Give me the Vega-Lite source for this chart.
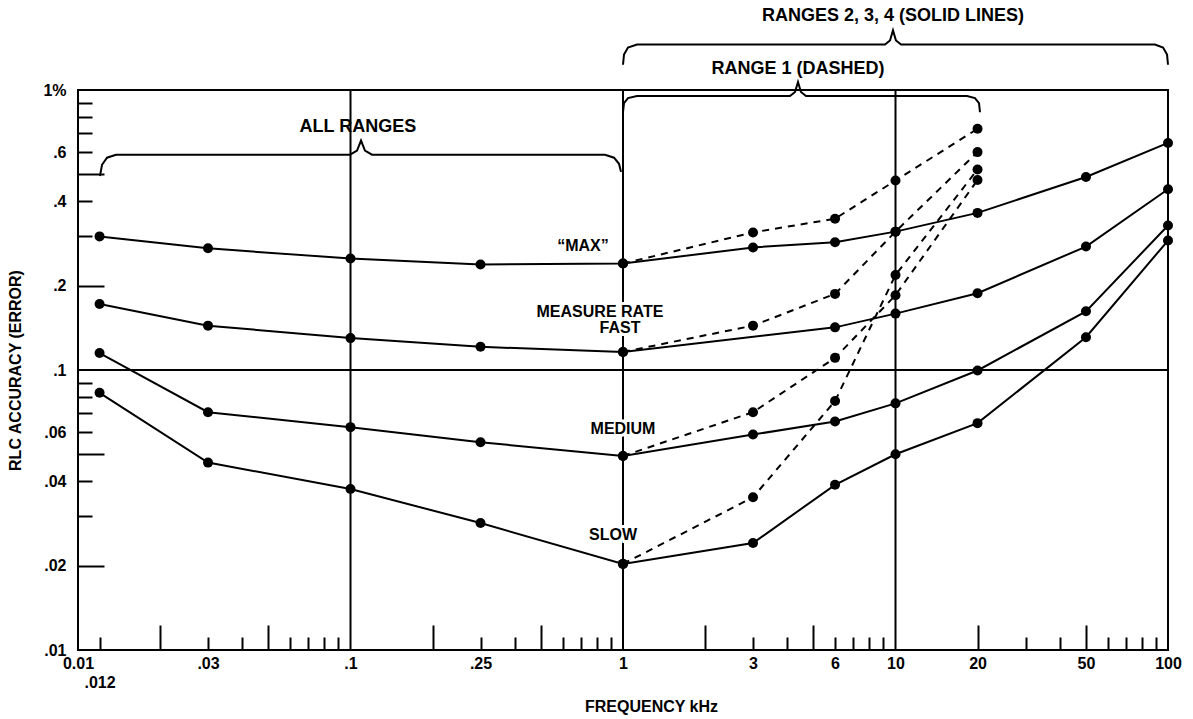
{
  "$schema": "https://vega.github.io/schema/vega-lite/v6.json",
  "width": 1090,
  "height": 560,
  "autosize": {"type": "none"},
  "padding": {"left": 78, "top": 90, "right": 25, "bottom": 69},
  "background": "white",
  "config": {
    "view": {"stroke": "black", "strokeWidth": 2},
    "font": "Liberation Sans",
    "axis": {"grid": false, "tickColor": "black", "tickWidth": 2, "labelColor": "black", "titleColor": "black"}
  },
  "datasets": {
    "series": [
      {"s": "MAX", "r": "solid", "f": 0.012, "v": 0.30},
      {"s": "MAX", "r": "solid", "f": 0.03, "v": 0.272},
      {"s": "MAX", "r": "solid", "f": 0.1, "v": 0.25},
      {"s": "MAX", "r": "solid", "f": 0.3, "v": 0.238},
      {"s": "MAX", "r": "solid", "f": 1, "v": 0.24},
      {"s": "MAX", "r": "solid", "f": 3, "v": 0.274},
      {"s": "MAX", "r": "solid", "f": 6, "v": 0.286},
      {"s": "MAX", "r": "solid", "f": 10, "v": 0.312},
      {"s": "MAX", "r": "solid", "f": 20, "v": 0.364},
      {"s": "MAX", "r": "solid", "f": 50, "v": 0.489},
      {"s": "MAX", "r": "solid", "f": 100, "v": 0.647},
      {"s": "FAST", "r": "solid", "f": 0.012, "v": 0.172},
      {"s": "FAST", "r": "solid", "f": 0.03, "v": 0.144},
      {"s": "FAST", "r": "solid", "f": 0.1, "v": 0.13},
      {"s": "FAST", "r": "solid", "f": 0.3, "v": 0.121},
      {"s": "FAST", "r": "solid", "f": 1, "v": 0.116},
      {"s": "FAST", "r": "solid", "f": 6, "v": 0.142},
      {"s": "FAST", "r": "solid", "f": 10, "v": 0.159},
      {"s": "FAST", "r": "solid", "f": 20, "v": 0.188},
      {"s": "FAST", "r": "solid", "f": 50, "v": 0.276},
      {"s": "FAST", "r": "solid", "f": 100, "v": 0.442},
      {"s": "MEDIUM", "r": "solid", "f": 0.012, "v": 0.115},
      {"s": "MEDIUM", "r": "solid", "f": 0.03, "v": 0.0707},
      {"s": "MEDIUM", "r": "solid", "f": 0.1, "v": 0.0625},
      {"s": "MEDIUM", "r": "solid", "f": 0.3, "v": 0.0552},
      {"s": "MEDIUM", "r": "solid", "f": 1, "v": 0.0493},
      {"s": "MEDIUM", "r": "solid", "f": 3, "v": 0.0588},
      {"s": "MEDIUM", "r": "solid", "f": 6, "v": 0.0655},
      {"s": "MEDIUM", "r": "solid", "f": 10, "v": 0.076},
      {"s": "MEDIUM", "r": "solid", "f": 20, "v": 0.0996},
      {"s": "MEDIUM", "r": "solid", "f": 50, "v": 0.162},
      {"s": "MEDIUM", "r": "solid", "f": 100, "v": 0.328},
      {"s": "SLOW", "r": "solid", "f": 0.012, "v": 0.0829},
      {"s": "SLOW", "r": "solid", "f": 0.03, "v": 0.0467},
      {"s": "SLOW", "r": "solid", "f": 0.1, "v": 0.0376},
      {"s": "SLOW", "r": "solid", "f": 0.3, "v": 0.0284},
      {"s": "SLOW", "r": "solid", "f": 1, "v": 0.0203},
      {"s": "SLOW", "r": "solid", "f": 3, "v": 0.0241},
      {"s": "SLOW", "r": "solid", "f": 6, "v": 0.0389},
      {"s": "SLOW", "r": "solid", "f": 10, "v": 0.05},
      {"s": "SLOW", "r": "solid", "f": 20, "v": 0.0646},
      {"s": "SLOW", "r": "solid", "f": 50, "v": 0.131},
      {"s": "SLOW", "r": "solid", "f": 100, "v": 0.29},
      {"s": "MAX", "r": "dashed", "f": 1, "v": 0.24},
      {"s": "MAX", "r": "dashed", "f": 3, "v": 0.31},
      {"s": "MAX", "r": "dashed", "f": 6, "v": 0.347},
      {"s": "MAX", "r": "dashed", "f": 10, "v": 0.475},
      {"s": "MAX", "r": "dashed", "f": 20, "v": 0.727},
      {"s": "FAST", "r": "dashed", "f": 1, "v": 0.116},
      {"s": "FAST", "r": "dashed", "f": 3, "v": 0.144},
      {"s": "FAST", "r": "dashed", "f": 6, "v": 0.187},
      {"s": "FAST", "r": "dashed", "f": 10, "v": 0.312},
      {"s": "FAST", "r": "dashed", "f": 20, "v": 0.60},
      {"s": "MEDIUM", "r": "dashed", "f": 1, "v": 0.0493},
      {"s": "MEDIUM", "r": "dashed", "f": 3, "v": 0.0707},
      {"s": "MEDIUM", "r": "dashed", "f": 6, "v": 0.1105},
      {"s": "MEDIUM", "r": "dashed", "f": 10, "v": 0.185},
      {"s": "MEDIUM", "r": "dashed", "f": 20, "v": 0.477},
      {"s": "SLOW", "r": "dashed", "f": 1, "v": 0.0203},
      {"s": "SLOW", "r": "dashed", "f": 3, "v": 0.0351},
      {"s": "SLOW", "r": "dashed", "f": 6, "v": 0.0775},
      {"s": "SLOW", "r": "dashed", "f": 10, "v": 0.2185},
      {"s": "SLOW", "r": "dashed", "f": 20, "v": 0.52}
    ],
    "braces": [
      {"b": "all", "o": 1, "f": 0.01204, "v": 0.4932},
      {"b": "all", "o": 2, "f": 0.01225, "v": 0.5406},
      {"b": "all", "o": 3, "f": 0.01278, "v": 0.5731},
      {"b": "all", "o": 4, "f": 0.01378, "v": 0.5875},
      {"b": "all", "o": 5, "f": 0.0996, "v": 0.5875},
      {"b": "all", "o": 6, "f": 0.1057, "v": 0.6072},
      {"b": "all", "o": 7, "f": 0.1093, "v": 0.6599},
      {"b": "all", "o": 8, "f": 0.1130, "v": 0.6072},
      {"b": "all", "o": 9, "f": 0.1199, "v": 0.5875},
      {"b": "all", "o": 10, "f": 0.859, "v": 0.5875},
      {"b": "all", "o": 11, "f": 0.927, "v": 0.5731},
      {"b": "all", "o": 12, "f": 0.9667, "v": 0.5452},
      {"b": "all", "o": 13, "f": 0.9833, "v": 0.51},
      {"b": "r1", "o": 1, "f": 1.0, "v": 0.8327},
      {"b": "r1", "o": 2, "f": 1.0085, "v": 0.8977},
      {"b": "r1", "o": 3, "f": 1.043, "v": 0.9357},
      {"b": "r1", "o": 4, "f": 1.1256, "v": 0.9513},
      {"b": "r1", "o": 5, "f": 4.101, "v": 0.9513},
      {"b": "r1", "o": 6, "f": 4.278, "v": 0.9836},
      {"b": "r1", "o": 7, "f": 4.387, "v": 1.0688},
      {"b": "r1", "o": 8, "f": 4.499, "v": 0.9836},
      {"b": "r1", "o": 9, "f": 4.694, "v": 0.9513},
      {"b": "r1", "o": 10, "f": 18.3, "v": 0.9513},
      {"b": "r1", "o": 11, "f": 19.57, "v": 0.9357},
      {"b": "r1", "o": 12, "f": 20.25, "v": 0.8977},
      {"b": "r1", "o": 13, "f": 20.42, "v": 0.8327},
      {"b": "r234", "o": 1, "f": 1.0, "v": 1.231},
      {"b": "r234", "o": 2, "f": 1.0085, "v": 1.338},
      {"b": "r234", "o": 3, "f": 1.043, "v": 1.418},
      {"b": "r234", "o": 4, "f": 1.1256, "v": 1.454},
      {"b": "r234", "o": 5, "f": 9.152, "v": 1.454},
      {"b": "r234", "o": 6, "f": 9.546, "v": 1.503},
      {"b": "r234", "o": 7, "f": 9.79, "v": 1.633},
      {"b": "r234", "o": 8, "f": 10.04, "v": 1.503},
      {"b": "r234", "o": 9, "f": 10.48, "v": 1.454},
      {"b": "r234", "o": 10, "f": 89.6, "v": 1.454},
      {"b": "r234", "o": 11, "f": 95.9, "v": 1.418},
      {"b": "r234", "o": 12, "f": 99.2, "v": 1.338},
      {"b": "r234", "o": 13, "f": 100, "v": 1.231}
    ],
    "labels": [
      {"t": "\u201cMAX\u201d", "f": 0.713, "v": 0.278},
      {"t": "MEASURE RATE", "f": 0.823, "v": 0.1606},
      {"t": "FAST", "f": 0.975, "v": 0.1418},
      {"t": "MEDIUM", "f": 1.0, "v": 0.0614},
      {"t": "SLOW", "f": 0.919, "v": 0.0257}
    ],
    "heads": [
      {"t": "ALL RANGES", "f": 0.1065, "v": 0.735},
      {"t": "RANGE 1 (DASHED)", "f": 4.39, "v": 1.19},
      {"t": "RANGES 2, 3, 4 (SOLID LINES)", "f": 9.79, "v": 1.834}
    ]
  },
  "layer": [
    {
      "data": {"values": [{"f": 0.1}, {"f": 1}, {"f": 10}]},
      "mark": {"type": "rule", "color": "black", "strokeWidth": 2},
      "encoding": {
        "x": {"field": "f", "type": "quantitative", "scale": {"type": "log", "domain": [0.01, 100], "nice": false}, "axis": null}
      }
    },
    {
      "data": {"values": [{"v": 0.1}]},
      "mark": {"type": "rule", "color": "black", "strokeWidth": 2},
      "encoding": {
        "y": {"field": "v", "type": "quantitative", "scale": {"type": "log", "domain": [0.01, 1], "nice": false}, "axis": null}
      }
    },
    {
      "data": {"name": "series"},
      "transform": [{"filter": "datum.r == 'solid'"}],
      "mark": {"type": "line", "color": "black", "strokeWidth": 2},
      "encoding": {
        "x": {"field": "f", "type": "quantitative", "scale": {"type": "log", "domain": [0.01, 100], "nice": false},
          "axis": {"orient": "bottom", "values": [0.01, 0.012, 0.03, 0.1, 0.3, 1, 3, 6, 10, 20, 50, 100], "ticks": false, "domain": false,
            "labelExpr": "datum.value == 0.01 ? '0.01' : datum.value == 0.012 ? ['', '.012'] : datum.value == 0.03 ? '.03' : datum.value == 0.1 ? '.1' : datum.value == 0.3 ? '.25' : format(datum.value, 'd')",
            "labelFont": "Liberation Sans", "labelFontSize": 16, "labelFontWeight": "bold", "labelPadding": 5, "labelLineHeight": 19, "labelBaseline": "top",
            "labelFlush": false, "labelOverlap": false,
            "title": "FREQUENCY kHz", "titleFont": "Liberation Sans", "titleFontSize": 16, "titleFontWeight": "bold", "titleX": 573, "titleY": 56, "titleBaseline": "middle", "titleAlign": "center"}},
        "y": {"field": "v", "type": "quantitative", "scale": {"type": "log", "domain": [0.01, 1], "nice": false},
          "axis": {"orient": "left", "values": [1, 0.6, 0.4, 0.2, 0.1, 0.06, 0.04, 0.02, 0.01], "ticks": false, "domain": false,
            "labelExpr": "datum.value >= 1 ? '1%' : replace(format(datum.value, '~g'), '0.', '.')",
            "labelFont": "Liberation Sans", "labelFontSize": 16, "labelFontWeight": "bold", "labelPadding": 12, "labelOverlap": false, "labelFlush": false,
            "title": "RLC  ACCURACY  (ERROR)", "titleFont": "Liberation Sans", "titleFontSize": 16, "titleFontWeight": "bold", "titleX": -63, "titleY": 280, "titleAngle": -90, "titleAlign": "center", "titleBaseline": "middle"}},
        "detail": {"field": "s"}
      }
    },
    {
      "data": {"name": "series"},
      "transform": [{"filter": "datum.r == 'dashed'"}],
      "mark": {"type": "line", "color": "black", "strokeWidth": 2, "strokeDash": [7, 6]},
      "encoding": {
        "x": {"field": "f", "type": "quantitative", "scale": {"type": "log", "domain": [0.01, 100], "nice": false},
          "axis": {"orient": "bottom", "values": [0.012, 0.03, 0.04, 0.06, 0.07, 0.08, 0.09, 0.3, 0.4, 0.6, 0.7, 0.8, 0.9, 3, 4, 6, 7, 8, 9, 30, 40, 60, 70, 80, 90],
            "offset": -13, "tickSize": 13, "labels": false, "domain": false, "title": null}},
        "y": {"field": "v", "type": "quantitative", "scale": {"type": "log", "domain": [0.01, 1], "nice": false},
          "axis": {"orient": "left", "values": [0.9, 0.8, 0.7, 0.6, 0.4, 0.3, 0.09, 0.08, 0.07, 0.06, 0.04, 0.03],
            "offset": -14, "tickSize": 14, "labels": false, "domain": false, "title": null}},
        "detail": {"field": "s"}
      }
    },
    {
      "data": {"name": "series"},
      "mark": {"type": "circle", "color": "black", "opacity": 1, "size": 100},
      "encoding": {
        "x": {"field": "f", "type": "quantitative", "scale": {"type": "log", "domain": [0.01, 100], "nice": false},
          "axis": {"orient": "bottom", "values": [0.02, 0.05, 0.2, 0.5, 2, 5, 20, 50],
            "offset": -25, "tickSize": 25, "labels": false, "domain": false, "title": null}},
        "y": {"field": "v", "type": "quantitative", "scale": {"type": "log", "domain": [0.01, 1], "nice": false},
          "axis": {"orient": "left", "values": [0.5, 0.2, 0.05, 0.02],
            "offset": -26, "tickSize": 26, "labels": false, "domain": false, "title": null}}
      }
    },
    {
      "data": {"name": "braces"},
      "mark": {"type": "line", "color": "black", "strokeWidth": 2, "clip": false},
      "encoding": {
        "x": {"field": "f", "type": "quantitative", "scale": {"type": "log", "domain": [0.01, 100], "nice": false}, "axis": null},
        "y": {"field": "v", "type": "quantitative", "scale": {"type": "log", "domain": [0.01, 1], "nice": false}, "axis": null},
        "detail": {"field": "b"},
        "order": {"field": "o", "type": "quantitative"}
      }
    },
    {
      "data": {"name": "labels"},
      "mark": {"type": "text", "font": "Liberation Sans", "fontSize": 16, "fontWeight": "bold", "fill": "white", "stroke": "white", "strokeWidth": 6, "align": "center", "baseline": "middle"},
      "encoding": {
        "x": {"field": "f", "type": "quantitative", "scale": {"type": "log", "domain": [0.01, 100], "nice": false}, "axis": null},
        "y": {"field": "v", "type": "quantitative", "scale": {"type": "log", "domain": [0.01, 1], "nice": false}, "axis": null},
        "text": {"field": "t"}
      }
    },
    {
      "data": {"name": "labels"},
      "mark": {"type": "text", "font": "Liberation Sans", "fontSize": 16, "fontWeight": "bold", "color": "black", "align": "center", "baseline": "middle"},
      "encoding": {
        "x": {"field": "f", "type": "quantitative", "scale": {"type": "log", "domain": [0.01, 100], "nice": false}, "axis": null},
        "y": {"field": "v", "type": "quantitative", "scale": {"type": "log", "domain": [0.01, 1], "nice": false}, "axis": null},
        "text": {"field": "t"}
      }
    },
    {
      "data": {"name": "heads"},
      "mark": {"type": "text", "font": "Liberation Sans", "fontSize": 18, "fontWeight": "bold", "color": "black", "align": "center", "baseline": "middle", "clip": false},
      "encoding": {
        "x": {"field": "f", "type": "quantitative", "scale": {"type": "log", "domain": [0.01, 100], "nice": false}, "axis": null},
        "y": {"field": "v", "type": "quantitative", "scale": {"type": "log", "domain": [0.01, 1], "nice": false}, "axis": null},
        "text": {"field": "t"}
      }
    }
  ],
  "resolve": {"axis": {"x": "independent", "y": "independent"}}
}
